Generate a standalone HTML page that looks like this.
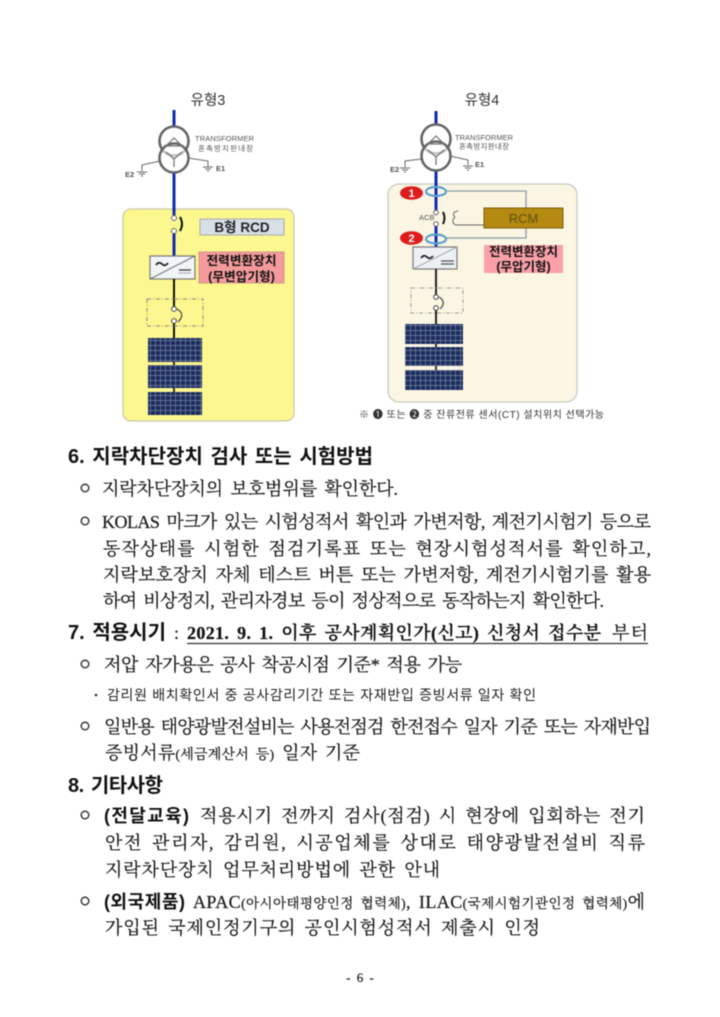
<!DOCTYPE html>
<html lang="ko"><head><meta charset="utf-8"><style>
html,body{margin:0;padding:0;background:#fff}
svg{display:block;filter:blur(.5px)}
.s{font-family:"Liberation Serif","Noto Serif CJK SC",serif;font-size:18px;fill:#1a1a1a;stroke:#1a1a1a;stroke-width:.22px;word-spacing:3px}
.h{font-family:"Liberation Sans","Noto Sans CJK KR",sans-serif;font-size:20px;font-weight:700;fill:#111;word-spacing:2px}
.b{font-family:"Liberation Sans","Noto Sans CJK KR",sans-serif;font-size:18px;font-weight:700;fill:#111}
.d{font-family:"Liberation Sans","Noto Sans CJK KR",sans-serif}
.t{font-family:"Liberation Sans","Noto Sans CJK KR",sans-serif;font-size:7.5px;fill:#555}
</style></head><body>
<svg width="720" height="1017" viewBox="0 0 720 1017" xmlns="http://www.w3.org/2000/svg">
<defs>
<pattern id="p" width="5" height="5" patternUnits="userSpaceOnUse"><rect width="5" height="5" fill="#1b2b5e"/><path d="M0 .5H5M.5 0V5" stroke="#77849f" stroke-width=".7"/></pattern>
</defs>
<rect width="720" height="1017" fill="#fff"/>

<!-- 유형3 -->
<text x="208" y="105" text-anchor="middle" class="d" font-size="14.5" fill="#333">유형3</text>
<rect x="123" y="209" width="171" height="212" rx="8" fill="#fdf78f" stroke="#c9c9a8" stroke-width="1.2"/>
<path d="M174 110V128M174 172V217M174 232V256" stroke="#0f2cb0" stroke-width="3"/>
<circle cx="174" cy="141" r="14.5" fill="#fff" stroke="#666" stroke-width="2.6"/>
<circle cx="174" cy="158" r="14.5" fill="#fff" fill-opacity=".6" stroke="#666" stroke-width="2.6"/>
<path d="M166 146L174 138L182 146Z" fill="none" stroke="#777" stroke-width="1.2"/>
<path d="M166 152L174 159L182 152M174 159V167" fill="none" stroke="#777" stroke-width="1.3"/>
<path d="M160 161L142 165V171M137 172H147M139 174H145M141 176H143M188 158L208 161V167M203 167H213M205 169H211M207 171H209" fill="none" stroke="#666" stroke-width="1"/>
<text x="125" y="177" class="t" font-weight="700">E2</text>
<text x="216" y="171" class="t" font-weight="700">E1</text>
<text x="195" y="141" class="t" textLength="59">TRANSFORMER</text>
<text x="198" y="151" class="t" textLength="55">혼촉방지판내장</text>
<circle cx="174" cy="218" r="2.5" fill="#fff" stroke="#666"/><circle cx="174" cy="231" r="2.5" fill="#fff" stroke="#666"/>
<path d="M180 217Q184 224 180 231" fill="none" stroke="#111" stroke-width="2"/>
<rect x="200" y="219" width="84" height="16" fill="#d8dfe8" stroke="#aaa"/>
<text x="242" y="232" text-anchor="middle" class="d" font-size="13.5" font-weight="700" fill="#222">B형 RCD</text>
<rect x="150" y="256" width="45" height="23" fill="#f2f5f7" stroke="#777" stroke-width="1.2"/>
<path d="M150 279L195 256" stroke="#777"/>
<path d="M156 265Q159 261 162 264T168 263" fill="none" stroke="#222" stroke-width="1.8"/>
<path d="M179 270H191" stroke="#444" stroke-width="1.4"/><path d="M179 273H191" stroke="#777" stroke-width="1" stroke-dasharray="1.5 1"/>
<rect x="199" y="252" width="85" height="31" fill="#f59a9c" stroke="#c98"/>
<text x="241.5" y="265" text-anchor="middle" class="d" font-size="12.7" font-weight="700" fill="#111">전력변환장치</text>
<text x="241.5" y="281" text-anchor="middle" class="d" font-size="12.7" font-weight="700" fill="#111">(무변압기형)</text>
<path d="M174 279V307M174 323V338" stroke="#111" stroke-width="2"/>
<rect x="147" y="299" width="56" height="27" fill="none" stroke="#888" stroke-dasharray="4 2 1 2"/>
<circle cx="174" cy="309" r="2.4" fill="#fff" stroke="#444"/><circle cx="174" cy="321" r="2.4" fill="#fff" stroke="#444"/>
<path d="M177 309Q186 314 178 322" fill="none" stroke="#444" stroke-width="1.2"/>
<rect x="148" y="338" width="54" height="24" fill="url(#p)"/>
<rect x="148" y="365" width="54" height="23" fill="url(#p)"/>
<rect x="148" y="392" width="54" height="23" fill="url(#p)"/>
<path d="M174 362V365M174 388V392" stroke="#333" stroke-width="2"/>

<!-- 유형4 -->
<text x="482" y="105" text-anchor="middle" class="d" font-size="14.5" fill="#333">유형4</text>
<rect x="388" y="184" width="189" height="218" rx="11" fill="#fbf6e3" stroke="#c8c8c0" stroke-width="1.2"/>
<path d="M436 111V126M436 170V212M436 225V247" stroke="#0f2cb0" stroke-width="3"/>
<circle cx="436" cy="139" r="14.5" fill="#fff" stroke="#666" stroke-width="2.6"/>
<circle cx="436" cy="156" r="14.5" fill="#fff" fill-opacity=".6" stroke="#666" stroke-width="2.6"/>
<path d="M428 144L436 136L444 144Z" fill="none" stroke="#777" stroke-width="1.2"/>
<path d="M428 150L436 157L444 150M436 157V165" fill="none" stroke="#777" stroke-width="1.3"/>
<path d="M422 159L405 161V167M400 168H410M402 170H408M404 172H406M450 156L468 160V165M463 166H473M465 168H471M467 170H469" fill="none" stroke="#666"/>
<text x="390" y="172" class="t" font-weight="700">E2</text>
<text x="475" y="167" class="t" font-weight="700">E1</text>
<text x="455" y="140" class="t" textLength="58">TRANSFORMER</text>
<text x="459" y="149" class="t" textLength="50">혼촉방지판내장</text>
<path d="M446 191H526V208M526 228V238H446" fill="none" stroke="#8a9aa5" stroke-width="1.3"/>
<ellipse cx="436" cy="191.5" rx="10" ry="4.5" fill="none" stroke="#5f9fd0" stroke-width="2.2"/>
<ellipse cx="436" cy="239" rx="10" ry="4.5" fill="none" stroke="#5f9fd0" stroke-width="2.2"/>
<ellipse cx="411.5" cy="193" rx="11.5" ry="6.8" fill="#dd1c1c"/>
<ellipse cx="411.5" cy="238" rx="11.5" ry="6.8" fill="#dd1c1c"/>
<text x="411.5" y="197" text-anchor="middle" class="d" font-size="11" font-weight="700" fill="#fff">1</text>
<text x="411.5" y="242" text-anchor="middle" class="d" font-size="11" font-weight="700" fill="#fff">2</text>
<circle cx="436" cy="212.5" r="2.3" fill="#fff" stroke="#666"/><circle cx="436" cy="224" r="2.3" fill="#fff" stroke="#666"/>
<path d="M443 212Q446 218 443 224" fill="none" stroke="#111" stroke-width="2"/>
<text x="419" y="220" class="t" font-size="6.5">ACB</text>
<path d="M458 211Q452 212 454 216Q456 218 453 219Q452 224 456 225H484" fill="none" stroke="#666"/>
<rect x="484" y="208" width="79" height="20" fill="#b48a10" stroke="#7a5f10"/>
<text x="523.5" y="223" text-anchor="middle" class="d" font-size="13" fill="#5e5018">RCM</text>
<rect x="484" y="245" width="79" height="28" fill="#f9a0a8"/>
<text x="523.5" y="256" text-anchor="middle" class="d" font-size="12.5" font-weight="700" fill="#111">전력변환장치</text>
<text x="523.5" y="271" text-anchor="middle" class="d" font-size="12.5" font-weight="700" fill="#111">(무압기형)</text>
<rect x="413" y="247" width="44" height="22" fill="#eef1f3" stroke="#777" stroke-width="1.2"/>
<path d="M413 269L457 247" stroke="#aaa"/>
<path d="M421 258Q424 254 427 257T433 256" fill="none" stroke="#223" stroke-width="1.8"/>
<path d="M441 261H454M441 264H454" stroke="#555" stroke-width="1.3"/>
<path d="M436 269V295M436 310V324" stroke="#222" stroke-width="2"/>
<rect x="411" y="288" width="52" height="25" fill="none" stroke="#999" stroke-dasharray="4 2 1 2"/>
<circle cx="436" cy="297" r="2.3" fill="#fff" stroke="#444"/><circle cx="436" cy="308" r="2.3" fill="#fff" stroke="#444"/>
<path d="M439 297Q447 302 440 309" fill="none" stroke="#444" stroke-width="1.2"/>
<rect x="405" y="324" width="58" height="20" fill="url(#p)"/>
<rect x="405" y="347" width="58" height="19" fill="url(#p)"/>
<rect x="405" y="370" width="58" height="20" fill="url(#p)"/>
<path d="M436 344V347M436 366V370" stroke="#333" stroke-width="2"/>
<text x="359" y="418" class="d" font-size="10" fill="#333" textLength="245">※ ❶ 또는 ❷ 중 잔류전류 센서(CT) 설치위치 선택가능</text>

<!-- 6 -->
<text x="68" y="463" class="h" textLength="305">6. 지락차단장치 검사 또는 시험방법</text>
<circle cx="85" cy="488" r="3.8" fill="none" stroke="#222" stroke-width="1.3"/>
<text x="102" y="495" class="s" textLength="296">지락차단장치의 보호범위를 확인한다.</text>
<circle cx="85" cy="521" r="3.8" fill="none" stroke="#222" stroke-width="1.3"/>
<text x="102" y="528" class="s" textLength="549">KOLAS 마크가 있는 시험성적서 확인과 가변저항, 계전기시험기 등으로</text>
<text x="103" y="555" class="s" textLength="548">동작상태를 시험한 점검기록표 또는 현장시험성적서를 확인하고,</text>
<text x="103" y="581" class="s" textLength="548">지락보호장치 자체 테스트 버튼 또는 가변저항, 계전기시험기를 활용</text>
<text x="103" y="607" class="s" textLength="501">하여 비상정지, 관리자경보 등이 정상적으로 동작하는지 확인한다.</text>

<!-- 7 -->
<text x="68" y="639" class="h" textLength="98">7. 적용시기</text>
<text x="174" y="639" class="s">:</text>
<text x="187" y="639" class="s" style="font-weight:600;fill:#111" textLength="414">2021. 9. 1. 이후 공사계획인가(신고) 신청서 접수분</text>
<text x="612" y="639" class="s" textLength="36">부터</text>
<path d="M187 643.5H648" stroke="#333" stroke-width="1.3"/>
<circle cx="85" cy="664" r="3.8" fill="none" stroke="#222" stroke-width="1.3"/>
<text x="104" y="671" class="s" textLength="358">저압 자가용은 공사 착공시점 기준* 적용 가능</text>
<circle cx="96" cy="695" r="1.3" fill="#333"/>
<text x="107" y="700" class="d" font-size="14" fill="#222" textLength="429">감리원 배치확인서 중 공사감리기간 또는 자재반입 증빙서류 일자 확인</text>
<circle cx="85" cy="726" r="3.8" fill="none" stroke="#222" stroke-width="1.3"/>
<text x="104" y="733" class="s" textLength="547">일반용 태양광발전설비는 사용전점검 한전접수 일자 기준 또는 자재반입</text>
<text x="105" y="759" class="s" textLength="255">증빙서류<tspan style="font-size:14px">(세금계산서 등)</tspan> 일자 기준</text>

<!-- 8 -->
<text x="68" y="792" class="h" textLength="95">8. 기타사항</text>
<circle cx="85" cy="815" r="3.8" fill="none" stroke="#222" stroke-width="1.3"/>
<text x="104" y="822" class="b" textLength="85">(전달교육)</text>
<text x="200" y="822" class="s" textLength="445">적용시기 전까지 검사(점검) 시 현장에 입회하는 전기</text>
<text x="105" y="849" class="s" textLength="540">안전 관리자, 감리원, 시공업체를 상대로 태양광발전설비 직류</text>
<text x="105" y="876" class="s" textLength="335">지락차단장치 업무처리방법에 관한 안내</text>
<circle cx="85" cy="901" r="3.8" fill="none" stroke="#222" stroke-width="1.3"/>
<text x="104" y="908" class="b" textLength="81">(외국제품)</text>
<text x="193" y="908" class="s" textLength="452">APAC<tspan style="font-size:13.5px">(아시아태평양인정 협력체)</tspan>, ILAC<tspan style="font-size:13.5px">(국제시험기관인정 협력체)</tspan>에</text>
<text x="105" y="934" class="s" textLength="435">가입된 국제인정기구의 공인시험성적서 제출시 인정</text>
<text x="360" y="982" text-anchor="middle" class="s" style="font-size:13px">- 6 -</text>
</svg>
</body></html>
